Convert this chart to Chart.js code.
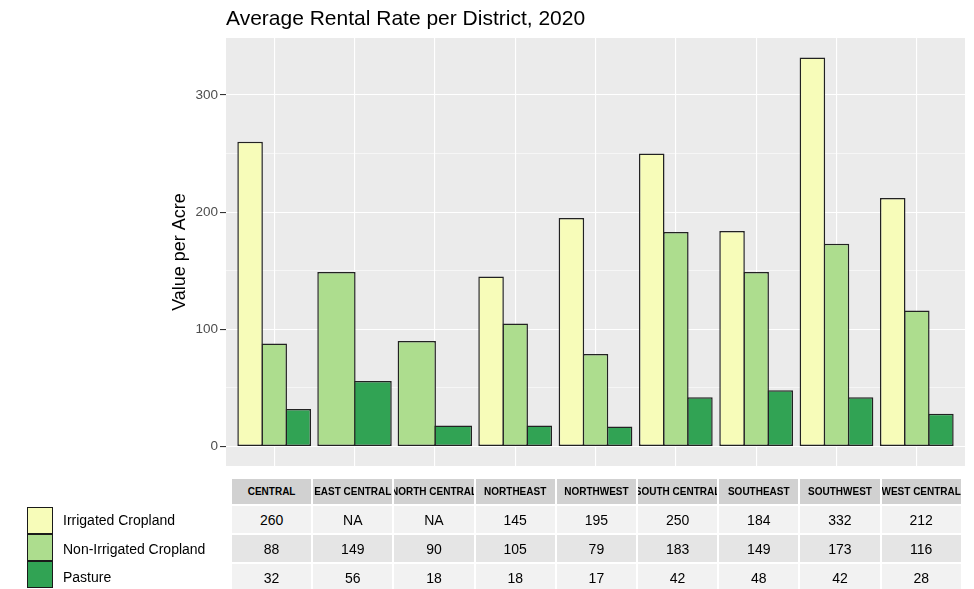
<!DOCTYPE html>
<html>
<head>
<meta charset="utf-8">
<script src="https://cdn.jsdelivr.net/npm/chart.js@4/dist/chart.umd.min.js"></script>
<style>
  html, body { margin: 0; padding: 0; background: #ffffff; }
  body { width: 974px; height: 589px; position: relative; overflow: hidden; font-family: "Liberation Sans", Arial, sans-serif; }
  #chart { position: absolute; left: 0; top: 0; }
  #title { position: absolute; left: 226px; top: 6px; font-size: 21px; color: #000; white-space: nowrap; }
  .cell { position: absolute; display: flex; align-items: center; justify-content: center; overflow: hidden; white-space: nowrap; color: #000; }
  .hdr { background: #D1D1D1; font-weight: bold; font-size: 10px; }
  .odd { background: #F2F2F2; font-size: 14px; }
  .even { background: #E5E5E5; font-size: 14px; }
  .key { position: absolute; left: 27px; width: 24px; height: 25px; border: 1px solid #1a1a1a; }
  .keylab { position: absolute; left: 63px; font-size: 14px; color: #000; white-space: nowrap; }
</style>
</head>
<body>
<canvas id="chart" width="974" height="589"></canvas>
<div id="title">Average Rental Rate per District, 2020</div>
<div id="tbl"></div>
<script>
// ---- data ----
const districts = ["CENTRAL", "EAST CENTRAL", "NORTH CENTRAL", "NORTHEAST", "NORTHWEST", "SOUTH CENTRAL", "SOUTHEAST", "SOUTHWEST", "WEST CENTRAL"];
const seriesNames = ["Irrigated Cropland", "Non-Irrigated Cropland", "Pasture"];
const irrigated = [260, null, null, 145, 195, 250, 184, 332, 212];
const nonIrrigated = [88, 149, 90, 105, 79, 183, 149, 173, 116];
const pasture = [32, 56, 18, 18, 17, 42, 48, 42, 28];
const yTicks = [0, 50, 100, 150, 200, 250, 300];
const colors = ["#F7FCB9", "#ADDD8E", "#31A354"];

const seriesValues = [irrigated, nonIrrigated, pasture];
const toPoints = arr => arr.map((v, i) => ({ x: i + 1, y: v }));

const panelBg = {
  id: 'panelBg',
  beforeDraw(chart) {
    const a = chart.chartArea;
    const c = chart.ctx;
    c.save();
    c.fillStyle = '#EBEBEB';
    c.fillRect(a.left, a.top, a.right - a.left, a.bottom - a.top);
    c.restore();
  }
};

new Chart(document.getElementById('chart'), {
  type: 'bar',
  data: {
    datasets: seriesValues.map((vals, k) => ({
      label: seriesNames[k],
      data: toPoints(vals),
      backgroundColor: colors[k],
      borderColor: '#222222',
      borderWidth: 1.5,
      borderSkipped: false,
      inflateAmount: 0,
      skipNull: true,
      categoryPercentage: 0.9,
      barPercentage: 1.06
    }))
  },
  options: {
    responsive: false,
    animation: false,
    events: [],
    layout: { padding: { top: 38, right: 9, bottom: 123, left: 0 } },
    plugins: { legend: { display: false }, tooltip: { enabled: false }, title: { display: false } },
    scales: {
      x: {
        type: 'linear',
        offset: false,
        min: 0.4,
        max: 9.6,
        afterBuildTicks: s => { s.ticks = districts.map((d, i) => ({ value: i + 1 })); },
        afterFit: s => { s.height = 0; },
        ticks: { display: false },
        grid: { color: '#FFFFFF', lineWidth: 1.1, drawTicks: false, offset: false },
        border: { display: false }
      },
      y: {
        min: -16.6,
        max: 348.6,
        afterBuildTicks: s => { s.ticks = yTicks.map(v => ({ value: v })); },
        afterFit: s => { s.width = 226; },
        ticks: {
          padding: 2,
          color: '#4D4D4D',
          font: { family: 'Liberation Sans', size: 13.5 },
          callback: v => (v % 100 === 0 ? String(v) : '')
        },
        grid: {
          color: '#FFFFFF',
          lineWidth: c => (c.tick && c.tick.value % 100 === 0 ? 1.1 : 0.55),
          tickLength: 6,
          tickWidth: 1.1,
          tickColor: c => (c.tick && c.tick.value % 100 === 0 ? '#333333' : 'rgba(0,0,0,0)')
        },
        border: { display: false },
        title: {
          display: true,
          text: 'Value per Acre',
          color: '#000000',
          font: { family: 'Liberation Sans', size: 18 },
          padding: { top: 169, bottom: 0 }
        }
      }
    }
  },
  plugins: [panelBg]
});

// ---- table + legend ----
const tbl = document.getElementById('tbl');
const colLeft = 232, colStep = 81.2, colW = 79.2;
const rowTops = [479, 506, 535, 564];
const rowHs = [25, 27, 27, 27];
function cell(txt, cls, left, top, w, h) {
  const d = document.createElement('div');
  d.className = 'cell ' + cls;
  d.style.left = left + 'px'; d.style.top = top + 'px';
  d.style.width = w + 'px'; d.style.height = h + 'px';
  d.textContent = txt;
  tbl.appendChild(d);
}
districts.forEach((name, i) => {
  const L = colLeft + i * colStep;
  cell(name, 'hdr', L, rowTops[0], colW, rowHs[0]);
  seriesValues.forEach((vals, k) => {
    const v = vals[i];
    cell(v === null ? 'NA' : String(v), k % 2 === 0 ? 'odd' : 'even', L, rowTops[k + 1], colW, rowHs[k + 1]);
  });
});
seriesNames.forEach((name, k) => {
  const key = document.createElement('div');
  key.className = 'key';
  key.style.top = (507 + k * 27) + 'px';
  key.style.background = colors[k];
  tbl.appendChild(key);
  const lab = document.createElement('div');
  lab.className = 'keylab';
  lab.style.top = (512 + k * 28.5) + 'px';
  lab.textContent = name;
  tbl.appendChild(lab);
});
</script>
</body>
</html>
